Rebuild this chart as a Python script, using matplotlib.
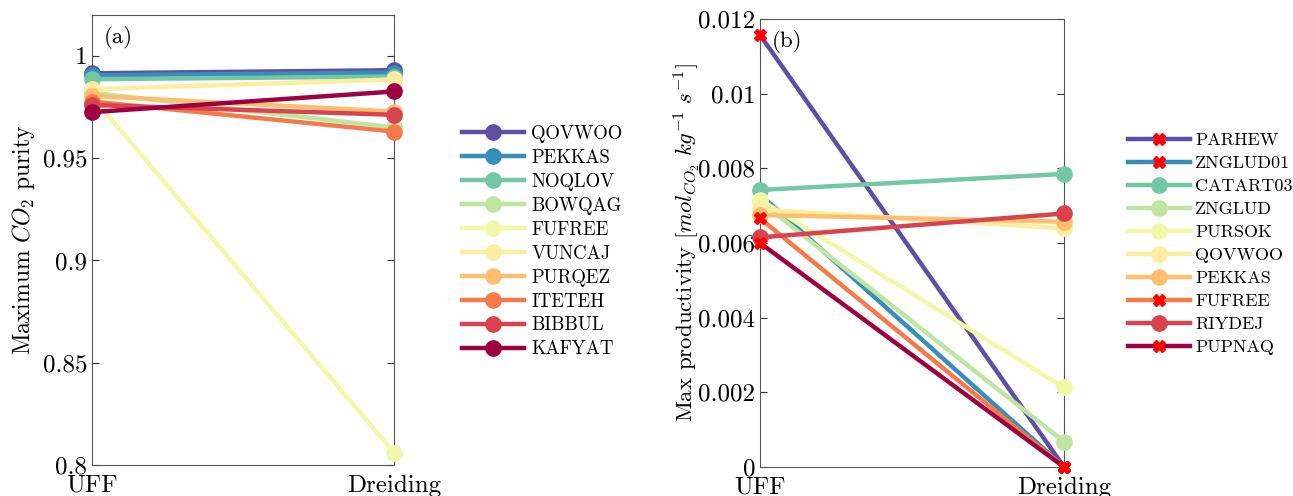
import numpy as np
import matplotlib
matplotlib.use("Agg")
import matplotlib.pyplot as plt
from matplotlib.ticker import FuncFormatter

plt.rcParams["font.family"] = ["cmr10", "DejaVu Serif"]
plt.rcParams["mathtext.fontset"] = "cm"
plt.rcParams["axes.formatter.use_mathtext"] = True

force_fields = ["UFF", "Dreiding"]

# (a) maximum CO2 purity
purity_names = ["QOVWOO", "PEKKAS", "NOQLOV", "BOWQAG", "FUFREE",
                "VUNCAJ", "PURQEZ", "ITETEH", "BIBBUL", "KAFYAT"]
purity_uff = [0.9915, 0.9905, 0.9886, 0.9820, 0.9800,
              0.9837, 0.9804, 0.9777, 0.9760, 0.9725]
purity_dreiding = [0.9930, 0.9918, 0.9899, 0.9650, 0.8060,
                   0.9885, 0.9728, 0.9630, 0.9712, 0.9826]

# (b) maximum productivity
prod_names = ["PARHEW", "ZNGLUD01", "CATART03", "ZNGLUD", "PURSOK",
              "QOVWOO", "PEKKAS", "FUFREE", "RIYDEJ", "PUPNAQ"]
prod_uff = [0.01157, 0.00730, 0.00742, 0.00712, 0.00716,
            0.00690, 0.00675, 0.00666, 0.00615, 0.00600]
prod_dreiding = [0.0, 0.0, 0.00785, 0.00068, 0.00213,
                 0.00639, 0.00657, 0.0, 0.00679, 0.0]
prod_failed = [True, True, False, False, False,
               False, False, True, False, True]

colors = plt.cm.Spectral_r(np.linspace(0, 1, 10))

fig = plt.figure(figsize=(12.93, 4.96), dpi=100)
ax1 = fig.add_axes([0.0712, 0.0625, 0.2336, 0.9073])
ax2 = fig.add_axes([0.5878, 0.0585, 0.2351, 0.9032])

x = [1, 2]

for i, name in enumerate(purity_names):
    ax1.plot(x, [purity_uff[i], purity_dreiding[i]], "-o", color=colors[i],
             lw=3.2, ms=11, label=name, clip_on=False, zorder=3 + i)

for i, name in enumerate(prod_names):
    if prod_failed[i]:
        ax2.plot(x, [prod_uff[i], prod_dreiding[i]], "-", color=colors[i],
                 lw=3.2, marker="X", ms=9, mfc="red", mec="red",
                 label=name, clip_on=False, zorder=3 + i)
    else:
        ax2.plot(x, [prod_uff[i], prod_dreiding[i]], "-o", color=colors[i],
                 lw=3.2, ms=11, label=name, clip_on=False, zorder=3 + i)

def fmt(v, pos):
    return "%g" % round(v, 6)

for ax in (ax1, ax2):
    ax.set_xlim(1, 2)
    ax.set_xticks(x)
    ax.set_xticklabels(force_fields)
    ax.tick_params(axis="x", length=0, labelsize=18, pad=7)
    ax.tick_params(axis="y", direction="in", right=True, length=5,
                   labelsize=18, colors="#333333", labelcolor="black")
    ax.yaxis.set_major_formatter(FuncFormatter(fmt))
    for s in ax.spines.values():
        s.set_color("#555555")
        s.set_linewidth(0.8)

ax1.set_ylim(0.8, 1.02)
ax1.set_yticks([0.8, 0.85, 0.9, 0.95, 1.0])
ax1.set_ylabel(r"Maximum $CO_2$ purity", fontsize=17, labelpad=4)
ax1.text(0.04, 0.975, "(a)", transform=ax1.transAxes, fontsize=16.5,
         va="top", ha="left")

ax2.set_ylim(0, 0.012)
ax2.set_yticks(np.arange(0, 0.0121, 0.002))
ax2.set_ylabel(r"Max productivity $[mol_{CO_2}\ kg^{-1}\ s^{-1}]$",
               fontsize=16.5, labelpad=-3)
ax2.text(0.04, 0.975, "(b)", transform=ax2.transAxes, fontsize=16.5,
         va="top", ha="left")

fig.legend(handles=ax1.get_lines(), loc="upper left",
           bbox_to_anchor=(445 / 1293, 1 - 108 / 496), frameon=False,
           fontsize=13.5, handlelength=3.3, labelspacing=0.32,
           handletextpad=0.4)
fig.legend(handles=ax2.get_lines(), loc="upper left",
           bbox_to_anchor=(1112 / 1293, 1 - 116 / 496), frameon=False,
           fontsize=13, handlelength=3.4, labelspacing=0.41,
           handletextpad=0.3)

fig.savefig("out.png", dpi=100)
